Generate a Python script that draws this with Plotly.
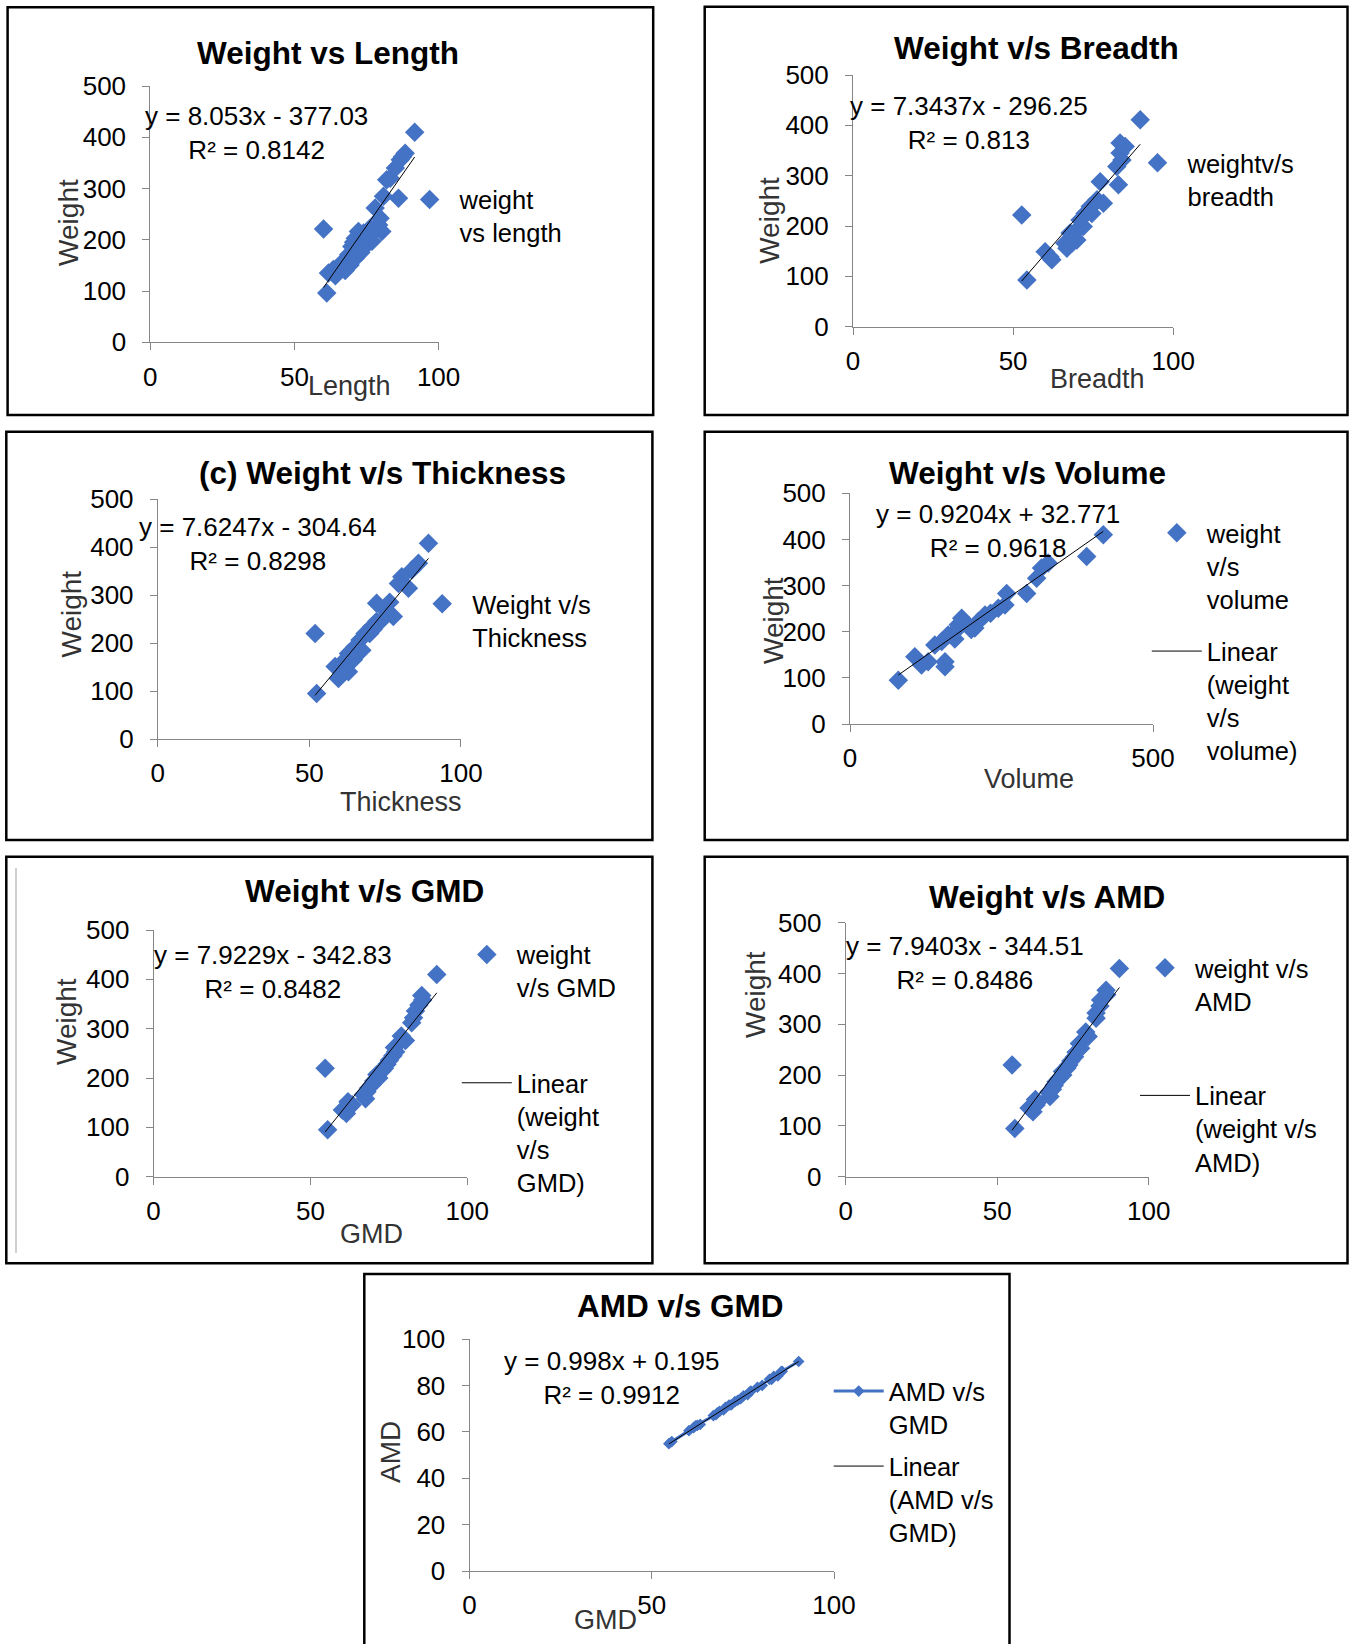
import plotly.graph_objects as go

W, H = 1351, 1644
OFF = 0  # page body margin is removed by the post script below
FONT = "Liberation Sans, Arial, sans-serif"
BLUE = "#4472C4"
GREY = "#868686"

# ---------------- data ----------------
# Panel 1: Weight vs Length
length = [61.2, 60.1, 91.7, 61.8, 63.5, 65.3, 64.2, 67.0, 69.3, 67.6, 68.8, 71.1, 69.9, 73.4,
          71.1, 72.2, 74.0, 76.3, 76.9, 75.7, 79.2, 80.3, 78.0, 79.7, 80.9, 86.1, 82.0, 83.2,
          85.0, 86.7, 88.4, 87.5, 70.5, 73.0]
weight_len = [96, 221, 410, 135, 142, 148, 130, 158, 151, 140, 171, 164, 187, 181,
              203, 216, 213, 223, 197, 207, 229, 216, 262, 242, 285, 281, 317, 320,
              340, 356, 369, 362, 195, 175]

# Panel 2: Weight v/s Breadth
breadth = [54.3, 52.7, 89.7, 60.0, 62.1, 61.5, 66.2, 67.8, 69.9, 70.9, 72.5, 74.1, 76.2, 77.2,
           78.2, 82.9, 82.4, 84.0, 83.4, 83.4, 85.0, 69.9, 71.9, 68.3, 74.6, 66.8, 73.5, 75.5]
weight_br = [93, 222, 411, 149, 133, 139, 166, 186, 192, 212, 225, 239, 252, 288,
             245, 282, 318, 331, 345, 365, 358, 172, 199, 166, 225, 156, 230, 245]

# Panel 3: Weight v/s Thickness
thickness = [52.4, 51.9, 89.3, 86.0, 83.8, 80.5, 82.7, 79.4, 72.2, 77.7, 75.0, 73.9, 70.6, 68.4,
             66.7, 65.1, 67.3, 62.9, 61.8, 64.5, 58.5, 60.7, 59.6, 62.9, 72.2, 69.9, 76.5, 71.0]
weight_th = [95, 220, 408, 366, 352, 338, 314, 324, 283, 255, 269, 248, 234, 220,
             206, 192, 185, 178, 165, 165, 151, 137, 126, 140, 245, 220, 285, 228]

# Panel 4: Weight v/s Volume
volume = [79.7, 418, 390.6, 327, 316, 308, 291.6, 258.6, 255.8, 244.7, 222.8, 211.7, 206, 184.3,
          178.7, 173, 162, 151.3, 140, 173, 156.8, 156.8, 129, 107, 118, 190, 232, 200]
weight_vol = [95, 410, 363, 349, 338, 316, 283, 283, 258, 251, 236, 222, 208, 229,
              215, 200, 193, 179, 171, 184, 135, 124, 135, 146, 128, 220, 240, 205]

# Panels 5-7: shared samples (weight, GMD, AMD)
weight_s = [95, 220, 128, 135, 141, 146, 152, 158, 166, 172, 180, 187, 194, 200, 207, 214,
            220, 228, 236, 245, 253, 262, 276, 285, 312, 322, 336, 348, 358, 367, 410]
gmd = [55.5, 54.7, 61.5, 60.2, 62.5, 63.3, 62.0, 67.6, 66.9, 68.0, 68.6, 69.7, 70.2, 71.8, 71.2, 72.8,
       73.6, 74.4, 75.2, 76.3, 77.2, 76.8, 80.3, 79.0, 82.3, 82.9, 83.5, 84.6, 85.8, 85.5, 90.3]
amd = [55.8, 54.9, 61.8, 60.5, 62.8, 63.2, 62.6, 67.4, 67.0, 68.2, 68.8, 69.4, 70.5, 71.6, 71.5, 73.0,
       73.6, 74.3, 75.5, 76.0, 77.5, 77.1, 80.0, 79.2, 82.6, 82.6, 83.9, 84.1, 86.1, 85.9, 90.3]

# trendline coefficients (slope, intercept) and their labels
slopes = [8.053, 7.3437, 7.6247, 0.9204, 7.9229, 7.9403, 0.998]
intercepts = [-377.03, -296.25, -304.64, 32.771, -342.83, -344.51, 0.195]
equations = ["y = 8.053x - 377.03<br>R² = 0.8142",
             "y = 7.3437x - 296.25<br>R² = 0.813",
             "y = 7.6247x - 304.64<br>R² = 0.8298",
             "y = 0.9204x + 32.771<br>R² = 0.9618",
             "y = 7.9229x - 342.83<br>R² = 0.8482",
             "y = 7.9403x - 344.51<br>R² = 0.8486",
             "y = 0.998x + 0.195<br>R² = 0.9912"]
titles = ["Weight vs Length", "Weight v/s Breadth", "(c) Weight v/s Thickness",
          "Weight v/s Volume", "Weight v/s GMD", "Weight v/s AMD", "AMD v/s GMD"]
x_titles = ["Length", "Breadth", "Thickness", "Volume", "GMD", "", "GMD"]
y_titles = ["Weight", "Weight", "Weight", "Weight", "Weight", "Weight", "AMD"]
series_names = ["weight<br>vs length", "weightv/s<br>breadth", "Weight v/s<br>Thickness",
                "weight<br>v/s<br>volume", "weight<br>v/s GMD", "weight v/s<br>AMD",
                "AMD v/s<br>GMD"]
linear_names = [None, None, None, "Linear<br>(weight<br>v/s<br>volume)",
                "Linear<br>(weight<br>v/s<br>GMD)", "Linear<br>(weight v/s<br>AMD)",
                "Linear<br>(AMD v/s<br>GMD)"]
x_ticks = [[0, 50, 100]] * 3 + [[0, 500]] + [[0, 50, 100]] * 3
y_ticks = [[0, 100, 200, 300, 400, 500]] * 6 + [[0, 20, 40, 60, 80, 100]]
x_ranges = [[0, 100]] * 3 + [[0, 500]] + [[0, 100]] * 3
y_ranges = [[0, 500]] * 6 + [[0, 100]]

xs_data = [length, breadth, thickness, volume, gmd, amd, gmd]
ys_data = [weight_len, weight_br, weight_th, weight_vol, weight_s, weight_s, amd]

# ---------------- layout geometry (page pixels) ----------------
plot_px = [  # x0, x1, ytop, ybottom
    (150.3, 438.6, 86.0, 342.3),
    (853.0, 1173.2, 75.0, 326.7),
    (157.8, 460.9, 499.0, 739.0),
    (850.0, 1153.0, 493.3, 724.0),
    (153.6, 467.2, 930.0, 1176.7),
    (845.7, 1148.8, 922.7, 1176.7),
    (469.5, 834.0, 1339.0, 1571.0),
]
box_px = [
    (7.6, 7.3, 653.2, 415.0),
    (704.7, 6.7, 1347.5, 415.0),
    (6.3, 431.7, 652.4, 840.0),
    (704.7, 431.7, 1347.5, 840.0),
    (6.3, 856.7, 652.4, 1263.3),
    (704.7, 856.7, 1347.5, 1263.3),
    (364.3, 1274.0, 1009.5, 1665.0),
]
title_px = [(328.3, 53), (1036, 48), (382, 473), (1027.8, 473), (364, 891), (1046.7, 897), (680, 1306)]
eq_px = [(256.5, 132.5), (969.4, 123.3), (257.8, 544), (998.3, 531), (272.5, 972.5),
         (964.5, 962.5), (611.2, 1377.5)]
ytitle_px = [(68.4, 222.5), (770, 220.8), (71.5, 614), (773, 621), (66.3, 1021.7), (755, 995), (390.4, 1451.5)]
xtitle_px = [(349.3, 386), (1097, 378.5), (400.9, 802.5), (1028.8, 779.5), (371.4, 1233.5), None, (605.4, 1620)]
# legend: (text start x, first line centre y)
leg_scatter_px = [(459.6, 198.3), (1187.5, 161.7), (472.2, 602.7), (1206.8, 531.7),
                  (516.8, 953.3), (1195, 966.7), (888.7, 1390)]
leg_linear_px = [None, None, None, (1206.8, 650), (516.8, 1081.7), (1195, 1094.3), (888.7, 1465)]

TICK_SIZE = 26
LEG_SIZE = 25.5
EQ_SIZE = 26
TITLE_SIZE = 31.5


def px(x):
    return (x - OFF) / W


def py(y):
    return 1 - (y - OFF) / H


fig = go.Figure()
layout = {}
annotations = []
shapes = []
legend_count = 0


def next_legend():
    global legend_count
    legend_count += 1
    return "legend" if legend_count == 1 else f"legend{legend_count}"


def legend_box(tx, ty):
    return dict(x=px(tx - 60), y=py(ty - 22), xanchor="left", yanchor="top",
                bgcolor="rgba(0,0,0,0)", borderwidth=0, itemwidth=50, valign="top",
                font=dict(family=FONT, size=LEG_SIZE, color="black"))


for i in range(7):
    n = i + 1
    xa = "x" if n == 1 else f"x{n}"
    ya = "y" if n == 1 else f"y{n}"
    xkey = "xaxis" if n == 1 else f"xaxis{n}"
    ykey = "yaxis" if n == 1 else f"yaxis{n}"
    x0, x1, yt, yb = plot_px[i]

    axis_common = dict(showgrid=False, zeroline=False, showline=True, linecolor=GREY, linewidth=1,
                       ticks="outside", ticklen=7, tickwidth=1, tickcolor=GREY, automargin=False,
                       tickfont=dict(family=FONT, size=TICK_SIZE, color="black"), fixedrange=True)
    layout[xkey] = dict(axis_common, domain=[px(x0), px(x1)], range=x_ranges[i],
                        tickvals=x_ticks[i], anchor=ya, ticklabelstandoff=4)
    layout[ykey] = dict(axis_common, domain=[py(yb), py(yt)], range=y_ranges[i],
                        tickvals=y_ticks[i], anchor=xa, ticklabelstandoff=11)

    # scatter series
    lg = next_legend()
    if n == 7:
        fig.add_trace(go.Scatter(x=xs_data[i], y=ys_data[i], mode="lines+markers",
                                 line=dict(color=BLUE, width=3),
                                 marker=dict(symbol="diamond", size=9, color=BLUE),
                                 name=series_names[i], xaxis=xa, yaxis=ya, legend=lg,
                                 showlegend=True, cliponaxis=False))
    else:
        fig.add_trace(go.Scatter(x=xs_data[i], y=ys_data[i], mode="markers",
                                 marker=dict(symbol="diamond", size=15, color=BLUE),
                                 name=series_names[i], xaxis=xa, yaxis=ya, legend=lg,
                                 showlegend=True, cliponaxis=False))
    layout[lg] = legend_box(*leg_scatter_px[i])

    # linear trendline
    xmin, xmax = min(xs_data[i]), max(xs_data[i])
    tr_x = [xmin, xmax]
    tr_y = [slopes[i] * v + intercepts[i] for v in tr_x]
    if linear_names[i]:
        lg2 = next_legend()
        fig.add_trace(go.Scatter(x=tr_x, y=tr_y, mode="lines", line=dict(color="black", width=1),
                                 name=linear_names[i], xaxis=xa, yaxis=ya, legend=lg2,
                                 showlegend=True))
        layout[lg2] = legend_box(*leg_linear_px[i])
    else:
        fig.add_trace(go.Scatter(x=tr_x, y=tr_y, mode="lines", line=dict(color="black", width=1),
                                 name="Linear", xaxis=xa, yaxis=ya, showlegend=False))

    # panel frame
    bx0, by0, bx1, by1 = box_px[i]
    shapes.append(dict(type="rect", xref="paper", yref="paper", x0=px(bx0), x1=px(bx1),
                       y0=py(by1), y1=py(by0), line=dict(color="black", width=2.5),
                       fillcolor="rgba(0,0,0,0)", layer="below"))

    # title
    cx, cy = title_px[i]
    annotations.append(dict(text=f"<b>{titles[i]}</b>", x=px(cx), y=py(cy), xref="paper", yref="paper",
                            xanchor="center", yanchor="middle", showarrow=False,
                            font=dict(family=FONT, size=TITLE_SIZE, color="black")))
    # equation
    cx, cy = eq_px[i]
    annotations.append(dict(text=equations[i], x=px(cx), y=py(cy), xref="paper", yref="paper",
                            xanchor="center", yanchor="middle", showarrow=False, align="center",
                            font=dict(family=FONT, size=EQ_SIZE, color="black")))
    # y title
    cx, cy = ytitle_px[i]
    annotations.append(dict(text=y_titles[i], x=px(cx), y=py(cy), xref="paper", yref="paper",
                            xanchor="center", yanchor="middle", showarrow=False, textangle=-90,
                            font=dict(family=FONT, size=28, color="#333333")))
    # x title
    if xtitle_px[i]:
        cx, cy = xtitle_px[i]
        annotations.append(dict(text=x_titles[i], x=px(cx), y=py(cy), xref="paper", yref="paper",
                                xanchor="center", yanchor="middle", showarrow=False,
                                font=dict(family=FONT, size=27, color="#333333")))

# thin inner grey line at left of the GMD panel
shapes.append(dict(type="line", xref="paper", yref="paper", x0=px(16), x1=px(16),
                   y0=py(1253), y1=py(868), line=dict(color="#BFBFBF", width=1.5)))

fig.update_layout(**layout)
fig.update_layout(width=W, height=H,
                  margin=dict(l=0, r=0, t=0, b=0, pad=0, autoexpand=False),
                  paper_bgcolor="white", plot_bgcolor="white",
                  annotations=annotations, shapes=shapes,
                  font=dict(family=FONT, color="black"))

fig.write_html("out.html",
               config={"displayModeBar": False},
               post_script="document.body.style.margin='0';document.body.style.overflow='hidden';")
